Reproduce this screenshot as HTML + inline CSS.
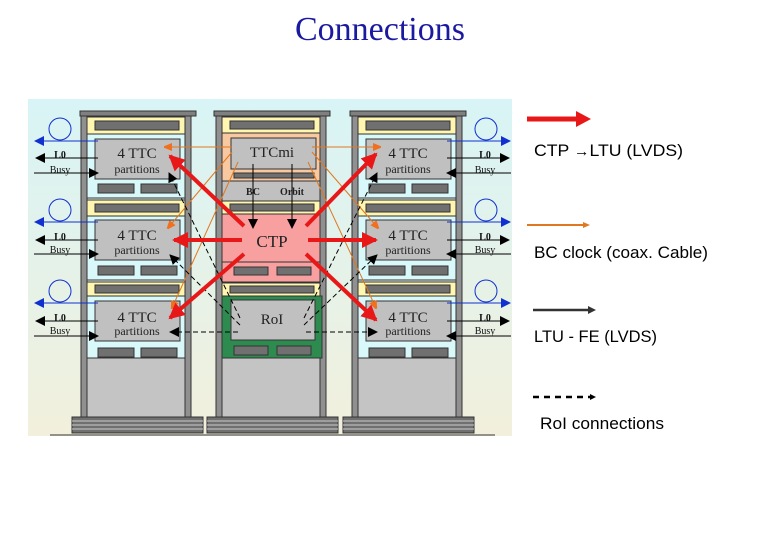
<!DOCTYPE html>
<html><head><meta charset="utf-8"><style>
html,body{margin:0;padding:0;background:#fff;}
svg{display:block;}
</style></head><body>
<svg width="780" height="540" viewBox="0 0 780 540" xmlns="http://www.w3.org/2000/svg" font-family="Liberation Serif, serif">
<defs>
<linearGradient id="bg" x1="0" y1="0" x2="0" y2="1">
<stop offset="0" stop-color="#d8f4f6"/><stop offset="1" stop-color="#f2f0dc"/>
</linearGradient>
<marker id="ar" markerWidth="16" markerHeight="16" refX="14" refY="8" orient="auto" markerUnits="userSpaceOnUse"><path d="M0,0 L16,8 L0,16z" fill="#e81818"/></marker>
<marker id="ao" markerWidth="8" markerHeight="8" refX="7" refY="4" orient="auto" markerUnits="userSpaceOnUse"><path d="M0,0 L10,4 L0,8z" fill="#f07020"/></marker>
<marker id="ak" markerWidth="10" markerHeight="10" refX="9" refY="5" orient="auto" markerUnits="userSpaceOnUse"><path d="M0,0 L10,5 L0,10z" fill="#000"/></marker>
<marker id="ab" markerWidth="10" markerHeight="10" refX="9" refY="5" orient="auto" markerUnits="userSpaceOnUse"><path d="M0,0 L10,5 L0,10z" fill="#1030d0"/></marker>
</defs>
<text x="380" y="40" text-anchor="middle" font-size="34" fill="#1a1aa0">Connections</text>
<rect x="28" y="99" width="484" height="337" fill="url(#bg)"/>
<line x1="50" y1="435" x2="495" y2="435" stroke="#333" stroke-width="1"/>

<g stroke="#333" stroke-width="1">
<rect x="80" y="111" width="116" height="5" fill="#808080"/>
<rect x="81" y="116" width="6" height="302" fill="#909090"/>
<rect x="185" y="116" width="6" height="302" fill="#909090"/>
<rect x="87" y="358" width="98" height="60" fill="#c4c4c4"/>
<rect x="214" y="111" width="116" height="5" fill="#808080"/>
<rect x="216" y="116" width="6" height="302" fill="#909090"/>
<rect x="320" y="116" width="6" height="302" fill="#909090"/>
<rect x="222" y="358" width="98" height="60" fill="#c4c4c4"/>
<rect x="350" y="111" width="116" height="5" fill="#808080"/>
<rect x="352" y="116" width="6" height="302" fill="#909090"/>
<rect x="456" y="116" width="6" height="302" fill="#909090"/>
<rect x="358" y="358" width="98" height="60" fill="#c4c4c4"/>
<rect x="72" y="417" width="131" height="16" fill="#707070"/>
<rect x="207" y="417" width="131" height="16" fill="#707070"/>
<rect x="343" y="417" width="131" height="16" fill="#707070"/>
</g>
<g stroke="#ccc" stroke-width="1">
<line x1="72" y1="421" x2="203" y2="421"/><line x1="72" y1="425" x2="203" y2="425"/><line x1="72" y1="429" x2="203" y2="429"/>
<line x1="207" y1="421" x2="338" y2="421"/><line x1="207" y1="425" x2="338" y2="425"/><line x1="207" y1="429" x2="338" y2="429"/>
<line x1="343" y1="421" x2="474" y2="421"/><line x1="343" y1="425" x2="474" y2="425"/><line x1="343" y1="429" x2="474" y2="429"/>
</g>

<g stroke="#333" stroke-width="1">
<rect x="87" y="117" width="98" height="17" fill="#fff6b0"/><rect x="95" y="121" width="84" height="9" fill="#707070"/>
<rect x="87" y="134" width="98" height="64" fill="#d8f8fa"/><rect x="95" y="139" width="85" height="40" fill="#c0c0c0"/>
<rect x="98" y="184" width="36" height="9" fill="#707070"/><rect x="141" y="184" width="36" height="9" fill="#707070"/>
<rect x="87" y="200" width="98" height="16" fill="#fff6b0"/><rect x="95" y="204" width="84" height="8" fill="#707070"/>
<rect x="87" y="216" width="98" height="64" fill="#d8f8fa"/><rect x="95" y="220" width="85" height="40" fill="#c0c0c0"/>
<rect x="98" y="266" width="36" height="9" fill="#707070"/><rect x="141" y="266" width="36" height="9" fill="#707070"/>
<rect x="87" y="282" width="98" height="14" fill="#fff6b0"/><rect x="95" y="285" width="84" height="8" fill="#707070"/>
<rect x="87" y="296" width="98" height="62" fill="#d8f8fa"/><rect x="95" y="301" width="85" height="40" fill="#c0c0c0"/>
<rect x="98" y="348" width="36" height="9" fill="#707070"/><rect x="141" y="348" width="36" height="9" fill="#707070"/>
<rect x="358" y="117" width="98" height="17" fill="#fff6b0"/><rect x="366" y="121" width="84" height="9" fill="#707070"/>
<rect x="358" y="134" width="98" height="64" fill="#d8f8fa"/><rect x="366" y="139" width="85" height="40" fill="#c0c0c0"/>
<rect x="369" y="184" width="36" height="9" fill="#707070"/><rect x="412" y="184" width="36" height="9" fill="#707070"/>
<rect x="358" y="200" width="98" height="16" fill="#fff6b0"/><rect x="366" y="204" width="84" height="8" fill="#707070"/>
<rect x="358" y="216" width="98" height="64" fill="#d8f8fa"/><rect x="366" y="220" width="85" height="40" fill="#c0c0c0"/>
<rect x="369" y="266" width="36" height="9" fill="#707070"/><rect x="412" y="266" width="36" height="9" fill="#707070"/>
<rect x="358" y="282" width="98" height="14" fill="#fff6b0"/><rect x="366" y="285" width="84" height="8" fill="#707070"/>
<rect x="358" y="296" width="98" height="62" fill="#d8f8fa"/><rect x="366" y="301" width="85" height="40" fill="#c0c0c0"/>
<rect x="369" y="348" width="36" height="9" fill="#707070"/><rect x="412" y="348" width="36" height="9" fill="#707070"/>
<rect x="222" y="117" width="98" height="16" fill="#fff6b0"/><rect x="230" y="121" width="84" height="8" fill="#707070"/>
<rect x="222" y="133" width="98" height="48" fill="#f8c8a0"/><rect x="231" y="138" width="85" height="31" fill="#c0c0c0"/>
<rect x="234" y="173" width="80" height="5" fill="#707070"/>
<rect x="222" y="181" width="98" height="20" fill="#c0c0c0"/>
<rect x="222" y="201" width="98" height="13" fill="#fff6b0"/><rect x="230" y="204" width="84" height="7" fill="#707070"/>
<rect x="222" y="214" width="98" height="68" fill="#f8a0a0"/><line x1="222" y1="262" x2="320" y2="262"/>
<rect x="234" y="267" width="34" height="8" fill="#707070"/><rect x="277" y="267" width="34" height="8" fill="#707070"/>
<rect x="222" y="283" width="98" height="13" fill="#fff6b0"/><rect x="230" y="286" width="84" height="7" fill="#707070"/>
<rect x="222" y="296" width="100" height="62" fill="#2e8b50"/><rect x="231" y="300" width="84" height="40" fill="#c0c0c0"/>
<rect x="234" y="346" width="34" height="9" fill="#707070"/><rect x="277" y="346" width="34" height="9" fill="#707070"/>
</g>

<g fill="#222" text-anchor="middle">
<text x="137" y="158" font-size="15">4 TTC</text><text x="137" y="173" font-size="12">partitions</text>
<text x="137" y="240" font-size="15">4 TTC</text><text x="137" y="254" font-size="12">partitions</text>
<text x="137" y="322" font-size="15">4 TTC</text><text x="137" y="335" font-size="12">partitions</text>
<text x="408" y="158" font-size="15">4 TTC</text><text x="408" y="173" font-size="12">partitions</text>
<text x="408" y="240" font-size="15">4 TTC</text><text x="408" y="254" font-size="12">partitions</text>
<text x="408" y="322" font-size="15">4 TTC</text><text x="408" y="335" font-size="12">partitions</text>
<text x="272" y="157" font-size="15">TTCmi</text>
<text x="272" y="247" font-size="17">CTP</text>
<text x="272" y="324" font-size="15">RoI</text>
<text x="253" y="195" font-size="10" font-weight="bold">BC</text>
<text x="292" y="195" font-size="10" font-weight="bold">Orbit</text>
</g>

<g font-size="10" font-weight="bold" fill="#111" text-anchor="middle">
<text x="60" y="158">L0</text><text x="60" y="240">L0</text><text x="60" y="321">L0</text>
<text x="485" y="158">L0</text><text x="485" y="240">L0</text><text x="485" y="321">L0</text>
</g>
<g font-size="10" fill="#111" text-anchor="middle">
<text x="60" y="173">Busy</text><text x="60" y="253">Busy</text><text x="60" y="334">Busy</text>
<text x="485" y="173">Busy</text><text x="485" y="253">Busy</text><text x="485" y="334">Busy</text>
</g>
<g fill="none" stroke="#1030d0" stroke-width="1">
<circle cx="60" cy="129" r="11"/><circle cx="60" cy="210" r="11"/><circle cx="60" cy="291" r="11"/>
<circle cx="486" cy="129" r="11"/><circle cx="486" cy="210" r="11"/><circle cx="486" cy="291" r="11"/>
<line x1="98" y1="141" x2="35" y2="141" marker-end="url(#ab)"/>
<line x1="98" y1="222" x2="35" y2="222" marker-end="url(#ab)"/>
<line x1="98" y1="303" x2="35" y2="303" marker-end="url(#ab)"/>
<line x1="447" y1="141" x2="510" y2="141" marker-end="url(#ab)"/>
<line x1="447" y1="222" x2="510" y2="222" marker-end="url(#ab)"/>
<line x1="447" y1="303" x2="510" y2="303" marker-end="url(#ab)"/>
</g>
<g stroke="#000" stroke-width="1">
<line x1="98" y1="158" x2="36" y2="158" marker-end="url(#ak)"/>
<line x1="34" y1="173" x2="98" y2="173" marker-end="url(#ak)"/>
<line x1="98" y1="240" x2="36" y2="240" marker-end="url(#ak)"/>
<line x1="34" y1="254" x2="98" y2="254" marker-end="url(#ak)"/>
<line x1="98" y1="321" x2="36" y2="321" marker-end="url(#ak)"/>
<line x1="34" y1="336" x2="98" y2="336" marker-end="url(#ak)"/>
<line x1="447" y1="158" x2="509" y2="158" marker-end="url(#ak)"/>
<line x1="511" y1="173" x2="447" y2="173" marker-end="url(#ak)"/>
<line x1="447" y1="240" x2="509" y2="240" marker-end="url(#ak)"/>
<line x1="511" y1="254" x2="447" y2="254" marker-end="url(#ak)"/>
<line x1="447" y1="321" x2="509" y2="321" marker-end="url(#ak)"/>
<line x1="511" y1="336" x2="447" y2="336" marker-end="url(#ak)"/>
<line x1="253" y1="164" x2="253" y2="228" marker-end="url(#ak)"/>
<line x1="292" y1="164" x2="292" y2="228" marker-end="url(#ak)"/>
</g>

<g stroke="#e07820" stroke-width="1" fill="none">
<line x1="232" y1="147" x2="165" y2="147" marker-end="url(#ao)"/>
<line x1="312" y1="147" x2="380" y2="147" marker-end="url(#ao)"/>
<line x1="232" y1="152" x2="168" y2="228" marker-end="url(#ao)"/>
<line x1="312" y1="152" x2="378" y2="228" marker-end="url(#ao)"/>
<line x1="238" y1="162" x2="172" y2="308" marker-end="url(#ao)"/>
<line x1="308" y1="162" x2="376" y2="308" marker-end="url(#ao)"/>
</g>

<g stroke="#000" stroke-width="1" stroke-dasharray="5,3" fill="none">
<line x1="240" y1="318" x2="169" y2="173" marker-end="url(#ak)"/>
<line x1="304" y1="318" x2="377" y2="173" marker-end="url(#ak)"/>
<line x1="240" y1="325" x2="170" y2="255" marker-end="url(#ak)"/>
<line x1="304" y1="325" x2="377" y2="255" marker-end="url(#ak)"/>
<line x1="238" y1="332" x2="170" y2="332" marker-end="url(#ak)"/>
<line x1="306" y1="332" x2="377" y2="332" marker-end="url(#ak)"/>
</g>

<g stroke="#e81818" stroke-width="4" fill="none">
<line x1="244" y1="226" x2="170" y2="156" marker-end="url(#ar)"/>
<line x1="242" y1="240" x2="174" y2="240" marker-end="url(#ar)"/>
<line x1="244" y1="254" x2="170" y2="318" marker-end="url(#ar)"/>
<line x1="306" y1="226" x2="376" y2="154" marker-end="url(#ar)"/>
<line x1="308" y1="240" x2="376" y2="240" marker-end="url(#ar)"/>
<line x1="306" y1="254" x2="376" y2="320" marker-end="url(#ar)"/>
</g>

<line x1="527" y1="119" x2="578" y2="119" stroke="#e81818" stroke-width="5"/>
<path d="M576,111 L591,119 L576,127z" fill="#e81818"/>
<g font-family="Liberation Sans, sans-serif" font-size="17" fill="#000">
<text x="534" y="156" textLength="149" lengthAdjust="spacingAndGlyphs">CTP <tspan font-size="15">→</tspan>LTU  (LVDS)</text>
<text x="534" y="258" textLength="174" lengthAdjust="spacingAndGlyphs">BC clock  (coax. Cable)</text>
<text x="534" y="342" textLength="123" lengthAdjust="spacingAndGlyphs">LTU - FE (LVDS)</text>
<text x="540" y="429" textLength="124" lengthAdjust="spacingAndGlyphs">RoI connections</text>
</g>
<line x1="527" y1="225" x2="585" y2="225" stroke="#e07820" stroke-width="2"/>
<path d="M583,222 L590,225 L583,228z" fill="#e07820"/>
<line x1="533" y1="310" x2="590" y2="310" stroke="#333" stroke-width="2.5"/>
<path d="M588,306 L596,310 L588,314z" fill="#333"/>
<line x1="533" y1="397" x2="590" y2="397" stroke="#000" stroke-width="2.5" stroke-dasharray="6,5"/>
<path d="M590,394 L596,397 L590,400z" fill="#000"/>
</svg>
</body></html>
